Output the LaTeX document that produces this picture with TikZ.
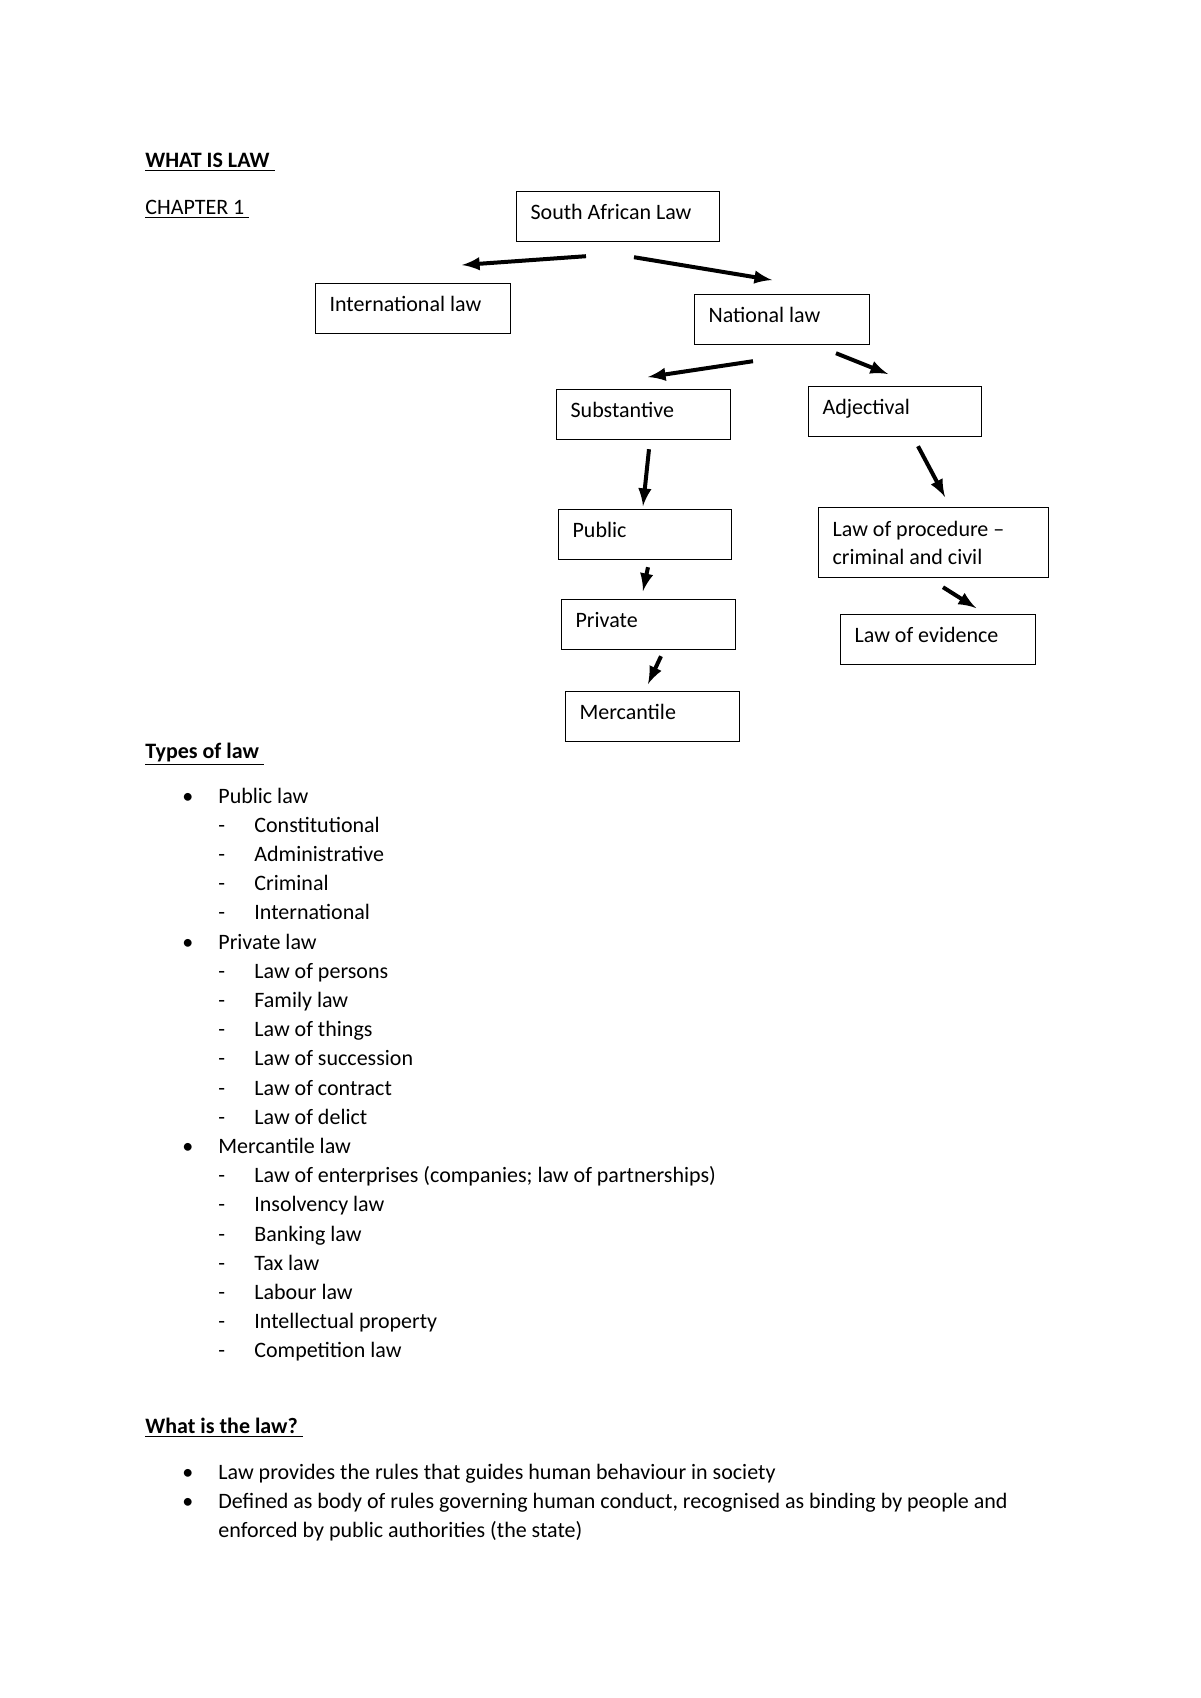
\documentclass[tikz,border=0pt]{standalone}
\usepackage{fontspec}
\setmainfont{Carlito}
\newcommand{\lawdash}[1]{\makebox[18pt][l]{-}#1}
\newcommand{\lawbullet}[1]{\makebox[18pt][l]{\textbullet}#1}
\begin{document}
\begin{tikzpicture}[x=0.5pt,y=-0.5pt,
    font=\fontsize{11}{14}\selectfont,
    boxbase/.style={draw,line width=0.6pt,anchor=north west,inner xsep=7pt,
      inner ysep=0pt,minimum height=25pt,align=flush left},
    lawbox/.style={boxbase,text height=8pt,text depth=5pt},
    arr/.style={->,>=latex,line width=2pt},
    txt/.style={anchor=mid west,inner sep=0pt,yshift=-1.7pt}]
   \useasboundingbox[fill=white] (0,0) rectangle (1200,1698);
   % headings
   \node[txt] (title) at (145,159) {\underline{\textbf{WHAT IS LAW}\ }};
   \node[txt] (chap) at (145,206) {\underline{CHAPTER 1\ }};
   % tree of boxes
   \node[lawbox,text width=87.5pt] (sa) at (516,191) {South African Law};
   \node[lawbox,text width=83.5pt] (intl) at (315,283) {International law};
   \node[lawbox,text width=73.5pt] (natl) at (694,294) {National law};
   \node[lawbox,text width=73pt] (subst) at (556,389) {Substantive};
   \node[lawbox,text width=72.5pt] (adj) at (808,386) {Adjectival};
   \node[lawbox,text width=72.5pt] (pub) at (558,509) {Public};
   \node[boxbase,text width=101pt,minimum height=35pt] (proc) at (818,507)
      {Law of procedure --\\criminal and civil};
   \node[lawbox,text width=73pt] (priv) at (561,599) {Private};
   \node[lawbox,text width=83.5pt] (evid) at (840,614) {Law of evidence};
   \node[lawbox,text width=73pt] (merc) at (565,691) {Mercantile};
   % arrows
   \draw[arr] ([shift={(70,14)}]sa.south west) -- ([shift={(147,-18)}]intl.north west);
   \draw[arr] ([shift={(118,15)}]sa.south west) -- ([shift={(78,-14)}]natl.north west);
   \draw[arr] ([shift={(59,16)}]natl.south west) -- ([shift={(92,-12)}]subst.north west);
   \draw[arr] ([shift={(142,8)}]natl.south west) -- ([shift={(80,-12)}]adj.north west);
   \draw[arr] ([shift={(93,9)}]subst.south west) -- ([shift={(85,-3)}]pub.north west);
   \draw[arr] ([shift={(110,9)}]adj.south west) -- ([shift={(127,-10)}]proc.north west);
   \draw[arr] ([shift={(90,7)}]pub.south west) -- ([shift={(82,-8)}]priv.north west);
   \draw[arr] ([shift={(125,9)}]proc.south west) -- ([shift={(136,-6)}]evid.north west);
   \draw[arr] ([shift={(100,6)}]priv.south west) -- ([shift={(83,-7)}]merc.north west);
   % types of law
   \node[txt] (types) at (145,750) {\underline{\textbf{Types of law}\ }};
   \node[txt] (b1) at (182,795) {\lawbullet{Public law}};
   \node[txt] (d1) at (218,824.2) {\lawdash{Constitutional}};
   \node[txt] (d2) at (218,853.4) {\lawdash{Administrative}};
   \node[txt] (d3) at (218,882.6) {\lawdash{Criminal}};
   \node[txt] (d4) at (218,911.8) {\lawdash{International}};
   \node[txt] (b2) at (182,941) {\lawbullet{Private law}};
   \node[txt] (d5) at (218,970.2) {\lawdash{Law of persons}};
   \node[txt] (d6) at (218,999.4) {\lawdash{Family law}};
   \node[txt] (d7) at (218,1028.6) {\lawdash{Law of things}};
   \node[txt] (d8) at (218,1057.8) {\lawdash{Law of succession}};
   \node[txt] (d9) at (218,1087) {\lawdash{Law of contract}};
   \node[txt] (d10) at (218,1116.2) {\lawdash{Law of delict}};
   \node[txt] (b3) at (182,1145.4) {\lawbullet{Mercantile law}};
   \node[txt] (d11) at (218,1174.6) {\lawdash{Law of enterprises (companies; law of partnerships)}};
   \node[txt] (d12) at (218,1203.8) {\lawdash{Insolvency law}};
   \node[txt] (d13) at (218,1233) {\lawdash{Banking law}};
   \node[txt] (d14) at (218,1262.2) {\lawdash{Tax law}};
   \node[txt] (d15) at (218,1291.4) {\lawdash{Labour law}};
   \node[txt] (d16) at (218,1320.6) {\lawdash{Intellectual property}};
   \node[txt] (d17) at (218,1349.8) {\lawdash{Competition law}};
   % what is the law
   \node[txt] (what) at (145,1425) {\underline{\textbf{What is the law?}\ }};
   \node[txt] (w1) at (182,1471) {\lawbullet{Law provides the rules that guides human behaviour in society}};
   \node[txt] (w2) at (182,1500) {\lawbullet{Defined as body of rules governing human conduct, recognised as binding by people and}};
   \node[txt] (w3) at (218,1529) {enforced by public authorities (the state)};
\end{tikzpicture}
\end{document}
